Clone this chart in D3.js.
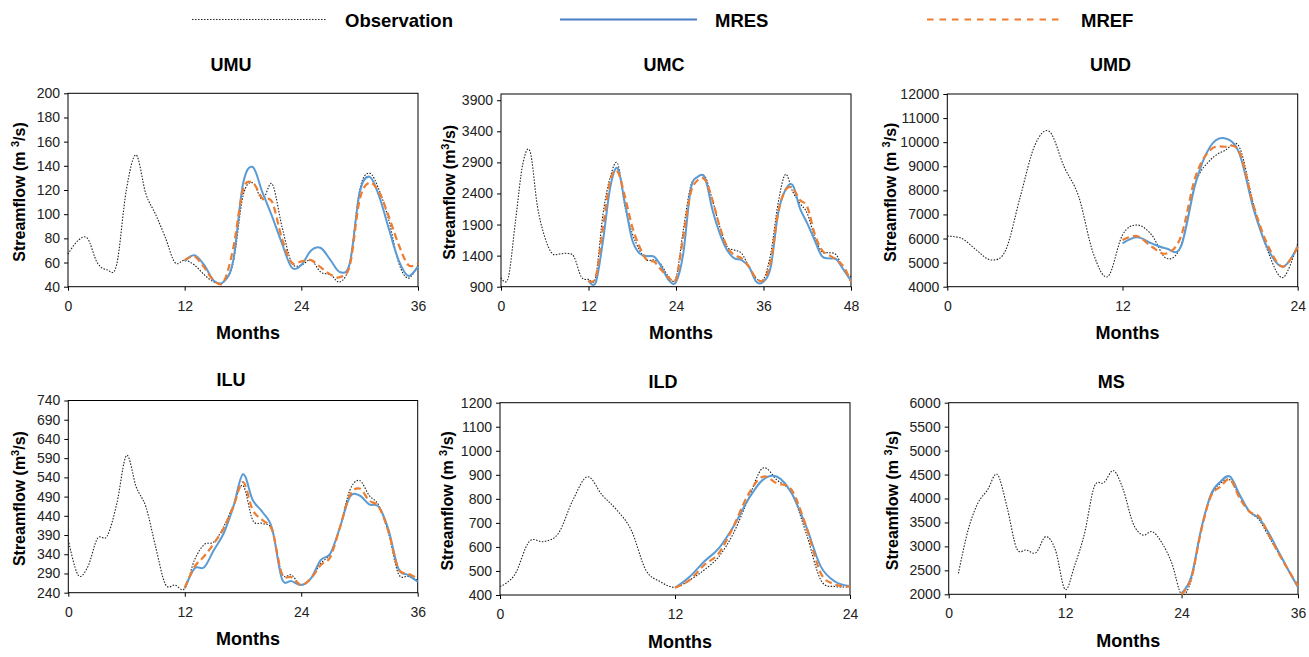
<!DOCTYPE html>
<html>
<head>
<meta charset="utf-8">
<script src="https://cdn.jsdelivr.net/npm/d3@7"></script>
<style>
  html, body { margin: 0; padding: 0; background: #fff; }
  svg { display: block; font-family: "Liberation Sans", Arial, sans-serif; }
</style>
</head>
<body>
<svg id="chart" width="1309" height="657"></svg>
<script>
// ---- Data (monthly streamflow, m3/s) ----
const seriesNames = ["Observation", "MRES", "MREF"];

const umuObs  = [67, 78, 80, 60, 54, 58, 120, 149, 117, 100, 81, 60, 62, 58, 50, 44, 44, 60, 115, 126, 112, 125, 90, 60, 58, 62, 52, 50, 44, 60, 120, 134, 120, 95, 60, 47, 58];
const umuMres = [61, 66, 58, 45, 44, 62, 125, 139, 118, 98, 76, 56, 58, 70, 72, 62, 52, 60, 118, 131, 115, 88, 62, 49, 57];
const umuMref = [62, 65, 56, 45, 44, 72, 120, 126, 113, 110, 80, 60, 61, 62, 56, 50, 48, 58, 112, 126, 118, 98, 75, 58, 59];

const umcObs  = [1045, 1045, 1970, 2880, 3070, 2190, 1700, 1436, 1425, 1436, 1383, 1061, 1018, 1060, 2080, 2670, 2880, 2190, 1760, 1490, 1330, 1330, 1250, 1060, 1045, 1810, 2510, 2670, 2670, 2290, 1865, 1545, 1490, 1436, 1222, 1034, 1018, 1436, 2240, 2707, 2430, 2240, 2080, 1704, 1463, 1447, 1410, 1168, 1061];
const umcMres = [1000, 970, 1650, 2510, 2804, 2240, 1651, 1436, 1393, 1383, 1222, 1007, 975, 1436, 2455, 2670, 2643, 2133, 1758, 1490, 1356, 1329, 1222, 981, 981, 1222, 2080, 2455, 2535, 2160, 1919, 1651, 1393, 1356, 1340, 1168, 991];
const umcMref = [1000, 1060, 1865, 2616, 2750, 2348, 1865, 1544, 1329, 1302, 1168, 1045, 1018, 1704, 2401, 2616, 2616, 2294, 1865, 1544, 1410, 1356, 1222, 1034, 1007, 1302, 2080, 2455, 2482, 2294, 2187, 1758, 1490, 1410, 1329, 1222, 981];

const umdObs  = [6100, 6000, 5520, 5110, 5520, 7740, 9880, 10440, 8980, 7740, 5380, 4420, 6150, 6560, 6150, 5180, 5700, 8300, 9250, 9650, 9800, 7350, 5400, 4380, 5800];
const umdMres = [5800, 6050, 5800, 5590, 5660, 8290, 9810, 10160, 9540, 7180, 5520, 4830, 5660];
const umdMref = [5940, 6100, 5660, 5380, 6080, 8570, 9670, 9810, 9600, 7320, 5660, 4830, 5660];

const iluObs  = [377, 286, 307, 381, 387, 472, 597, 515, 463, 359, 262, 260, 251, 325, 365, 372, 411, 467, 519, 429, 420, 403, 290, 286, 260, 277, 316, 342, 411, 506, 532, 493, 467, 394, 290, 282, 273];
const iluMres = [251, 303, 306, 351, 394, 463, 548, 481, 450, 407, 277, 270, 260, 277, 325, 342, 411, 489, 493, 470, 463, 403, 303, 286, 269];
const iluMref = [253, 307, 335, 368, 407, 463, 528, 455, 429, 403, 290, 280, 260, 277, 312, 333, 411, 493, 511, 480, 463, 398, 303, 290, 277];

const ildObs  = [435, 483, 622, 622, 656, 795, 892, 816, 754, 670, 504, 455, 432, 462, 504, 559, 656, 795, 927, 878, 823, 656, 462, 435, 435];
const ildMres = [430, 476, 539, 594, 684, 795, 878, 892, 823, 684, 518, 455, 437];
const ildMref = [430, 462, 525, 573, 684, 816, 892, 864, 837, 684, 490, 444, 435];

const msObs  = [2438, 3343, 3899, 4177, 4504, 3830, 2960, 2925, 2870, 3204, 2925, 2104, 2612, 3273, 4247, 4331, 4581, 4177, 3482, 3238, 3308, 3064, 2647, 2000, 2300, 3343, 4038, 4317, 4386, 4038, 3725, 3551, 3204, 2856, 2508, 2160];
const msMres = [2021, 2369, 3343, 4073, 4351, 4456, 4073, 3725, 3586, 3273, 2890, 2508, 2146];
const msMref = [2000, 2334, 3308, 4038, 4247, 4400, 4003, 3725, 3621, 3238, 2856, 2508, 2174];

// Tick labels per panel
const umuYTicks = [40, 60, 80, 100, 120, 140, 160, 180, 200];
const umcYTicks = [900, 1400, 1900, 2400, 2900, 3400, 3900];
const umdYTicks = [4000, 5000, 6000, 7000, 8000, 9000, 10000, 11000, 12000];
const iluYTicks = [240, 290, 340, 390, 440, 490, 540, 590, 640, 690, 740];
const ildYTicks = [400, 500, 600, 700, 800, 900, 1000, 1100, 1200];
const msYTicks  = [2000, 2500, 3000, 3500, 4000, 4500, 5000, 5500, 6000];
const xTicks36 = [0, 12, 24, 36];
const xTicks48 = [0, 12, 24, 36, 48];
const xTicks24 = [0, 12, 24];

// ---- Panel layout ----
const panels = [
  { title: "UMU", obs: umuObs, obsStart: 0, mres: umuMres, mref: umuMref, simStart: 12, xMax: 36, xTicks: xTicks36,
    yDomain: [40, 200], yTicks: umuYTicks, box: [68, 93.3, 418, 286.7], ylabX: 18.5, supSpace: true },
  { title: "UMC", obs: umcObs, obsStart: 0, mres: umcMres, mref: umcMref, simStart: 12, xMax: 48, xTicks: xTicks48,
    yDomain: [900, 4000], yTicks: umcYTicks, box: [501, 94, 851, 286.7], ylabX: 448.5, supSpace: false },
  { title: "UMD", obs: umdObs, obsStart: 0, mres: umdMres, mref: umdMref, simStart: 12, xMax: 24, xTicks: xTicks24,
    yDomain: [4000, 12000], yTicks: umdYTicks, box: [947.3, 94, 1297.7, 286.7], ylabX: 889.7, supSpace: true },
  { title: "ILU", obs: iluObs, obsStart: 0, mres: iluMres, mref: iluMref, simStart: 12, xMax: 36, xTicks: xTicks36,
    yDomain: [240, 740], yTicks: iluYTicks, box: [68.3, 400.5, 417.7, 592.7], ylabX: 18.5, supSpace: false },
  { title: "ILD", obs: ildObs, obsStart: 0, mres: ildMres, mref: ildMref, simStart: 12, xMax: 24, xTicks: xTicks24,
    yDomain: [400, 1200], yTicks: ildYTicks, box: [500, 402.7, 850, 595], ylabX: 447, supSpace: true },
  { title: "MS", obs: msObs, obsStart: 1, mres: msMres, mref: msMref, simStart: 24, xMax: 36, xTicks: xTicks36,
    yDomain: [2000, 6000], yTicks: msYTicks, box: [948.7, 402.7, 1298, 594.3], ylabX: 891.5, supSpace: true }
];

const colors = { obs: "#222", mres: "#5b9bd5", mref: "#ed7d31" };
const svg = d3.select("#chart");
const plain = d3.format("d");

panels.forEach(p => {
  const [x0, y0, x1, y1] = p.box;
  const x = d3.scaleLinear().domain([0, p.xMax]).range([x0, x1]);
  const y = d3.scaleLinear().domain(p.yDomain).range([y1, y0]);
  const g = svg.append("g");

  // y axis
  const ya = g.append("g").attr("transform", `translate(${x0},0)`)
    .call(d3.axisLeft(y).tickValues(p.yTicks).tickFormat(plain).tickSize(4).tickSizeOuter(0).tickPadding(4));
  ya.select(".domain").remove();
  ya.selectAll("line").attr("stroke", "#000");
  ya.selectAll("text").attr("font-size", 14).attr("fill", "#222")
    .attr("font-family", "'Liberation Sans', Arial, sans-serif");

  // x axis
  const xa = g.append("g").attr("transform", `translate(0,${y1})`)
    .call(d3.axisBottom(x).tickValues(p.xTicks).tickFormat(plain).tickSize(4).tickSizeOuter(0).tickPadding(10));
  xa.select(".domain").remove();
  xa.selectAll("line").attr("stroke", "#000");
  xa.selectAll("text").attr("font-size", 14).attr("fill", "#222")
    .attr("font-family", "'Liberation Sans', Arial, sans-serif");

  // frame
  g.append("rect").attr("x", x0).attr("y", y0).attr("width", x1 - x0).attr("height", y1 - y0)
    .attr("fill", "none").attr("stroke", "#000").attr("stroke-width", 1);

  const line = d3.line().x(d => x(d[0])).y(d => y(d[1])).curve(d3.curveCatmullRom.alpha(0));
  const obsPts = p.obs.map((v, i) => [i + p.obsStart, v]);
  const mresPts = p.mres.map((v, i) => [i + p.simStart, v]);
  const mrefPts = p.mref.map((v, i) => [i + p.simStart, v]);

  g.append("path").attr("d", line(obsPts)).attr("fill", "none")
    .attr("stroke", colors.obs).attr("stroke-width", 1.1).attr("stroke-dasharray", "1.5,1.5");
  g.append("path").attr("d", line(mresPts)).attr("fill", "none")
    .attr("stroke", colors.mres).attr("stroke-width", 2);
  g.append("path").attr("d", line(mrefPts)).attr("fill", "none")
    .attr("stroke", colors.mref).attr("stroke-width", 2.2).attr("stroke-dasharray", "7,4");

  // titles
  const cx = (x0 + x1) / 2;
  g.append("text").attr("x", cx - 12).attr("y", y0 - (y0 < 200 ? 22.6 : 14.7))
    .attr("text-anchor", "middle").attr("font-size", 18).attr("font-weight", "bold").text(p.title);
  g.append("text").attr("x", cx + 5).attr("y", y1 + 52.5)
    .attr("text-anchor", "middle").attr("font-size", 18).attr("font-weight", "bold").text("Months");

  // y label
  const cy = (y0 + y1) / 2 + 2;
  const yl = g.append("text").attr("transform", `translate(${p.ylabX + 6},${cy}) rotate(-90)`)
    .attr("text-anchor", "middle").attr("font-size", 16).attr("font-weight", "bold");
  yl.append("tspan").text("Streamflow (m" + (p.supSpace ? " " : ""));
  yl.append("tspan").attr("dy", -6).attr("font-size", 11).text("3");
  yl.append("tspan").attr("dy", 6).text("/s)");
});

// ---- Legend ----
const legendItems = [
  { name: seriesNames[0], x1: 192, x2: 327, tx: 345, color: colors.obs, w: 1.1, dash: "1.5,1.5" },
  { name: seriesNames[1], x1: 560, x2: 697, tx: 715, color: "#4a7fc8", w: 2, dash: null },
  { name: seriesNames[2], x1: 927, x2: 1063, tx: 1081, color: colors.mref, w: 2.2, dash: "6.5,6" }
];
const lg = svg.append("g");
legendItems.forEach(it => {
  const l = lg.append("line").attr("x1", it.x1).attr("x2", it.x2).attr("y1", 19.5).attr("y2", 19.5)
    .attr("stroke", it.color).attr("stroke-width", it.w);
  if (it.dash) l.attr("stroke-dasharray", it.dash);
  lg.append("text").attr("x", it.tx).attr("y", 27).attr("font-size", 18.5).attr("font-weight", "bold").text(it.name);
});
</script>
</body>
</html>
